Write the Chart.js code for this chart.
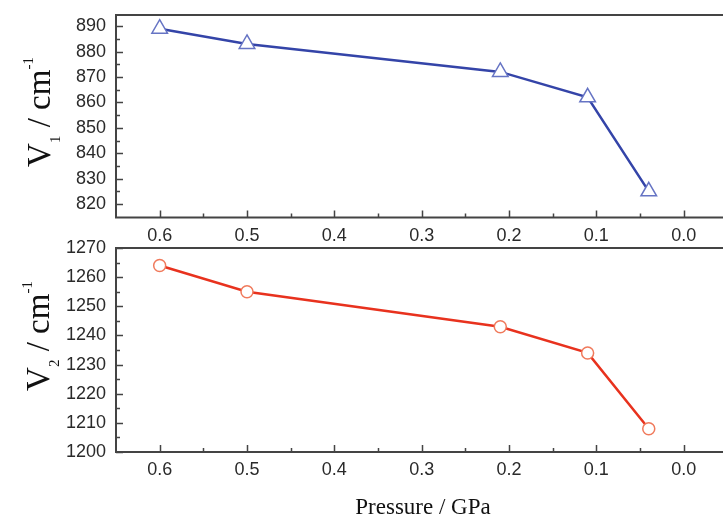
<!DOCTYPE html>
<html><head><meta charset="utf-8">
<script src="https://cdn.jsdelivr.net/npm/chart.js@4/dist/chart.umd.min.js"></script>
<style>
html,body{margin:0;padding:0;background:#fff;overflow:hidden;}
#w{position:relative;width:723px;height:519px;}
#c1{position:absolute;left:0;top:0;}
#c2{position:absolute;left:0;top:230px;}
</style></head><body>
<div id="w"><canvas id="c1" width="723" height="250"></canvas><canvas id="c2" width="723" height="289"></canvas></div>
<script>
// ---- data ----
const pressure = [0.6, 0.5, 0.21, 0.11, 0.04];
const v1 = [889, 883, 872, 862, 825];
const v2 = [1264, 1255, 1243, 1234, 1208];
const xTicks = [0.6, 0.5, 0.4, 0.3, 0.2, 0.1, 0.0];
const v1Ticks = [820, 830, 840, 850, 860, 870, 880, 890];
const v2Ticks = [1200, 1210, 1220, 1230, 1240, 1250, 1260, 1270];
const xTitle = 'Pressure / GPa';

function mids(arr){ const m=[]; for(let i=0;i<arr.length-1;i++) m.push((arr[i]+arr[i+1])/2); return m; }
function noPad(s){ s.paddingTop = 0; s.paddingBottom = 0; s.paddingLeft = 0; s.paddingRight = 0; }

const framePlugin = {
  id: 'frame',
  afterDraw(chart, args, opts){
    const {ctx, chartArea:a, scales:{x, y}} = chart;
    ctx.save();
    ctx.strokeStyle = '#444';
    ctx.lineWidth = 2;
    ctx.beginPath();
    ctx.moveTo(a.right + 2, a.top); ctx.lineTo(a.left, a.top);
    ctx.lineTo(a.left, a.bottom); ctx.lineTo(a.right + 2, a.bottom);
    ctx.stroke();
    ctx.lineWidth = 1.5;
    ctx.beginPath();
    x.ticks.forEach(t => { const p = Math.round(x.getPixelForValue(t.value)) + 0.5; ctx.moveTo(p, a.bottom); ctx.lineTo(p, a.bottom - 7); });
    mids(xTicks).forEach(v => { const p = Math.round(x.getPixelForValue(v)) + 0.5; ctx.moveTo(p, a.bottom); ctx.lineTo(p, a.bottom - 4); });
    y.ticks.forEach(t => { const p = Math.round(y.getPixelForValue(t.value)) + 0.5; ctx.moveTo(a.left, p); ctx.lineTo(a.left + 7, p); });
    mids(y.ticks.map(t => t.value)).forEach(v => { const p = Math.round(y.getPixelForValue(v)) + 0.5; ctx.moveTo(a.left, p); ctx.lineTo(a.left + 4, p); });
    ctx.stroke();

    // y label (rotated, with sub/superscript)
    const big = '33px "Liberation Serif"', small = '15px "Liberation Serif"';
    const parts = [
      {t:'V', f:big, dy:0},
      {t:opts.sub, f:small, dy:10},
      {t:' / cm', f:big, dy:0},
      {t:'-1', f:small, dy:-17}
    ];
    let total = 0;
    parts.forEach(p => { ctx.font = p.f; p.w = ctx.measureText(p.t).width; total += p.w; });
    ctx.translate(opts.lx, opts.ly);
    ctx.rotate(-Math.PI/2);
    ctx.fillStyle = '#111';
    ctx.textBaseline = 'alphabetic';
    ctx.textAlign = 'left';
    let cx = -total/2;
    parts.forEach(p => { ctx.font = p.f; ctx.fillText(p.t, cx, p.dy); cx += p.w; });
    ctx.restore();

    if (opts.xTitle) {
      ctx.save();
      ctx.font = '23px "Liberation Serif"';
      ctx.fillStyle = '#111';
      ctx.textAlign = 'center';
      ctx.textBaseline = 'alphabetic';
      ctx.fillText(opts.xTitle, opts.tx, opts.ty);
      ctx.restore();
    }
  }
};

function makeChart(id, vals, yTicks, ymin, ymax, style, padTop, xAxisH, xPad, frameOpts){
  return new Chart(document.getElementById(id), {
    type: 'scatter',
    data: { datasets: [{
      data: pressure.map((p, i) => ({x: p, y: vals[i]})),
      showLine: true,
      borderColor: style.line,
      borderWidth: 2.5,
      pointStyle: style.point,
      pointRadius: style.r,
      pointBorderWidth: 1.5,
      pointBorderColor: style.marker,
      pointBackgroundColor: '#fff',
      clip: false
    }]},
    options: {
      responsive: false, animation: false, devicePixelRatio: 1,
      layout: { autoPadding: false, padding: { top: padTop, left: 0, right: 0, bottom: 0 } },
      plugins: { legend: {display:false}, tooltip: {enabled:false}, frame: frameOpts },
      scales: {
        x: {
          type: 'linear', reverse: true, min: -0.045, max: 0.65,
          afterBuildTicks: s => { s.ticks = xTicks.map(v => ({value: v})); },
          afterFit: s => { s.height = xAxisH; noPad(s); },
          grid: {display:false, drawTicks:false}, border: {display:false},
          ticks: { padding: xPad, color: '#2a2a2a', font: {family:'Liberation Sans', size:18},
                   callback: v => Number(v).toFixed(1), maxRotation: 0, autoSkip: false }
        },
        y: {
          type: 'linear', min: ymin, max: ymax,
          afterBuildTicks: s => { s.ticks = yTicks.map(v => ({value: v})); },
          afterFit: s => { s.width = 116; noPad(s); },
          grid: {display:false, drawTicks:false}, border: {display:false},
          ticks: { padding: 10, color: '#2a2a2a', font: {family:'Liberation Sans', size:18},
                   callback: v => String(v), autoSkip: false }
        }
      }
    },
    plugins: [framePlugin]
  });
}

makeChart('c1', v1, v1Ticks, 814.7, 894.4,
  {line:'#3444a8', marker:'#6674c4', point:'triangle', r:9},
  15, 32.5, 8, {sub:'1', lx:50, ly:112});
makeChart('c2', v2, v2Ticks, 1200, 1270,
  {line:'#e8321e', marker:'#f07a5c', point:'circle', r:6},
  18, 67, 7, {sub:'2', lx:49, ly:106, xTitle:xTitle, tx:423, ty:284});
</script>
</body></html>
